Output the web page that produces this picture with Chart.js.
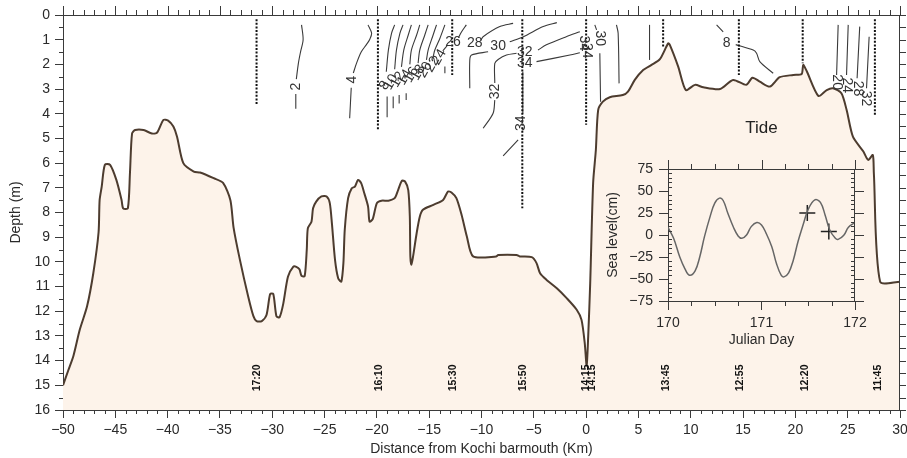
<!DOCTYPE html>
<html><head><meta charset="utf-8">
<script src="https://cdn.jsdelivr.net/npm/chart.js@4.4.1/dist/chart.umd.min.js"></script>
<style>
html,body{margin:0;padding:0;background:#fff;}
#wrap{position:relative;width:907px;height:458px;overflow:hidden;}
#main{position:absolute;left:0;top:0;width:907px;height:458px;}
#inset{position:absolute;left:590px;top:110px;width:280px;height:250px;}
</style></head><body>
<div id="wrap"><canvas id="main" width="907" height="458"></canvas><canvas id="inset" width="280" height="250"></canvas></div>
<script>
// ---------------- DATA ----------------
const xTickStep = 5, depthTickStep = 1;
const profileX = [-50,-49.5,-49,-48.4,-47.7,-47.1,-46.6,-46.5,-46.3,-46,-45.5,-44.9,-44.4,-44.25,-43.8,-43.6,-43.4,-43.1,-42.3,-41.5,-41.0,-40.4,-39.95,-39.45,-39.1,-38.5,-37.5,-36.9,-35.6,-34.7,-34.0,-33.7,-33.1,-32.3,-31.8,-31.5,-31.0,-30.55,-30.2,-29.9,-29.6,-29.3,-28.95,-28.5,-28.0,-27.7,-27.4,-27.2,-26.9,-26.7,-26.6,-26.25,-26.1,-25.8,-25.3,-24.8,-24.5,-24.3,-24.0,-23.7,-23.4,-23.2,-23.07,-22.75,-22.4,-22.1,-21.8,-21.5,-21.2,-20.84,-20.7,-20.4,-20.0,-19.56,-18.9,-18.3,-17.97,-17.6,-17.3,-17.0,-16.85,-16.8,-16.7,-16.54,-16.2,-15.9,-15.6,-14.6,-13.67,-13.2,-12.87,-12.4,-11.9,-11.4,-10.8,-8.6,-8.4,-6.65,-6.34,-5.2,-4.74,-4.4,-3.78,-2.8,-1.86,-0.9,-0.44,-0.13,0.05,0.2,0.39,0.67,0.93,1.15,1.6,2.26,3.5,4.0,4.65,5.45,6.25,7.05,7.84,8.0,8.8,9.53,10.4,11.2,12.8,14.05,15.3,15.9,16.6,17.56,18.5,19.8,20.6,20.75,21.1,22.2,23.0,23.6,24.4,24.9,25.5,26.5,26.96,27.4,27.5,28.1,30];
const profileDepth = [15.0,14.4,13.8,12.75,11.8,10.45,8.8,7.5,6.95,6.07,6.07,6.68,7.5,7.83,7.83,6.4,4.8,4.66,4.66,4.8,4.76,4.25,4.28,4.52,4.93,6.0,6.34,6.38,6.61,6.8,7.5,8.6,9.9,11.4,12.2,12.4,12.4,12.15,11.3,11.3,12.2,12.24,11.7,10.6,10.2,10.2,10.3,10.57,10.57,9.5,8.64,8.37,7.83,7.56,7.35,7.35,7.62,8.43,9.92,10.66,10.8,10.05,8.7,7.42,7.02,6.95,6.68,6.81,7.22,7.76,8.37,8.27,7.62,7.52,7.52,7.42,7.09,6.71,6.75,7.09,8.17,9.78,10.12,9.78,8.84,8.17,7.89,7.69,7.49,7.15,7.19,7.42,8.1,8.97,9.78,9.78,9.72,9.72,9.78,9.81,10.05,10.46,10.73,11.07,11.47,11.94,12.35,13.3,14.2,13.0,10.86,6.8,5.47,3.85,3.51,3.33,3.24,3.1,2.63,2.23,2.02,1.79,1.15,1.21,2.09,3.04,2.83,2.93,3.0,2.63,2.83,2.54,2.7,2.9,2.52,2.43,2.39,2.02,2.29,3.28,3.04,2.97,3.17,3.85,4.93,5.53,5.87,5.67,6.4,10.8,10.8];

const stationX      = [-31.5,-19.9,-12.8,-6.1,0.0,7.36,14.6,20.7,27.6];
const stationTop    = [0.17,0.17,0.17,0.17,0.17,0.17,0.17,0.17,0.17];
const stationBottom = [3.65,4.63,2.43,7.83,4.45,1.3,2.43,1.95,4.05];

const timeLabels = ['17:20','16:10','15:30','15:50','14:15','14:15','13:45','12:55','12:20','11:45'];
const timeX      = [-31.4,-19.8,-12.7,-6.0,0.0,0.6,7.6,14.7,20.9,27.9];

// salinity contour polylines [distance km, depth m]
const contourLines = [
  [[-27.2,0.4],[-27.05,1.0],[-27.3,1.5],[-27.5,1.95],[-27.7,2.6]],
  [[-27.75,3.2],[-27.75,3.8]],
  [[-20.85,0.4],[-20.5,0.74],[-20.7,1.0],[-21.0,1.2],[-21.5,1.5],[-21.95,1.96],[-22.25,2.35]],
  [[-22.45,2.95],[-22.6,4.18]],
  [[-18.3,0.4],[-18.6,0.74],[-18.9,1.42],[-19.1,2.3]],
  [[-19.02,3.3],[-19.02,4.14]],
  [[-17.5,0.4],[-17.8,0.74],[-18.13,1.42],[-18.3,2.2]],
  [[-18.44,3.3],[-18.44,3.78]],
  [[-16.7,0.4],[-17.0,0.81],[-17.43,1.42],[-17.65,2.1]],
  [[-17.87,3.24],[-17.87,3.58]],
  [[-15.9,0.4],[-16.2,0.81],[-16.7,1.42],[-16.85,2.0]],
  [[-17.2,3.17],[-17.2,3.44]],
  [[-15.1,0.4],[-15.42,0.81],[-15.9,1.42],[-16.06,1.95]],
  [[-14.3,0.4],[-14.68,0.88],[-15.1,1.42],[-15.26,1.82]],
  [[-13.5,0.4],[-13.98,0.95],[-14.46,1.42],[-14.62,1.69]],
  [[-13.3,1.25],[-13.7,1.45]],
  [[-13.5,2.09],[-13.5,2.36]],
  [[-11.45,0.4],[-11.9,0.68],[-12.2,0.92]],
  [[-6.98,0.34],[-8.25,0.47],[-9.85,0.88],[-10.05,1.02]],
  [[-11.12,2.97],[-11.12,1.82],[-10.95,1.62],[-9.37,1.49]],
  [[-7.3,1.08],[-6.0,0.88],[-4.1,0.47],[-2.8,0.31]],
  [[-9.84,4.59],[-8.89,3.98],[-8.73,3.45]],
  [[-8.73,2.75],[-8.73,1.96],[-8.41,1.8],[-7.61,1.62],[-6.65,1.55]],
  [[-4.6,1.42],[-3.8,1.21],[-1.9,0.88],[-0.6,0.68]],
  [[-4.74,1.89],[-1.55,1.62],[-0.6,1.53]],
  [[-6.05,2.3],[-6.05,4.0]],
  [[-6.5,5.06],[-7.93,5.71]],
  [[0.83,0.4],[1.0,0.6]],
  [[1.31,1.55],[1.38,3.51]],
  [[2.9,0.4],[3.06,0.74],[3.15,2.77]],
  [[6.06,0.4],[6.06,1.82]],
  [[12.47,0.4],[13.1,0.68]],
  [[14.3,1.2],[15.97,1.42],[16.29,1.55],[16.6,1.89],[17.88,2.36]],
  [[24.09,0.4],[23.94,2.43]],
  [[25.05,0.4],[24.89,2.43]],
  [[26.15,0.47],[25.9,2.56]],
  [[27.05,0.88],[26.8,2.97]]
];
const contourLabelText  = ['2','4','8','10','12','14','16','18','20','22','24','26','28','30','32','32','34','34','34','34','30','8','20','24','28','32'];
const contourLabelX     = [-27.7,-22.33,-19.25,-18.65,-18.0,-17.35,-16.7,-16.05,-15.4,-14.7,-14.05,-12.72,-10.64,-8.41,-8.73,-5.86,-5.86,-6.18,-0.25,0.1,1.31,13.42,23.94,24.89,26.0,26.74];
const contourLabelDepth = [2.9,2.62,2.85,2.72,2.62,2.52,2.42,2.33,2.22,2.0,1.7,1.08,1.15,1.28,3.1,1.49,1.96,4.38,1.15,1.45,0.94,1.15,2.72,2.85,2.98,3.38];
const contourLabelAngle = [-90,-90,-60,-60,-60,-60,-60,-60,-60,-60,-60,0,0,0,-90,0,0,-90,90,90,90,0,90,90,90,90];

// tide inset
const tideDay = [170.0,170.06,170.125,170.18,170.23,170.29,170.34,170.39,170.45,170.5,170.55,170.59,170.64,170.70,170.75,170.79,170.84,170.89,170.95,171.0,171.05,171.11,171.16,171.21,171.24,171.29,171.34,171.39,171.45,171.5,171.57,171.63,171.68,171.73,171.79,171.82,171.88,171.93,172.0];
const tideCm  = [8.8,-3.8,-24.7,-38.1,-45.7,-40.7,-24.7,-1.9,20.9,36.2,41.9,39.2,24.7,8.8,-1.1,-3.8,0,9.5,14.1,11.4,1.9,-13.3,-32.4,-45.7,-47.6,-43,-28.6,-7.6,13.3,29.3,40,37,22.8,5.7,-3.8,-5,-0.4,8.8,14.1];
const markerDay = [171.49, 171.72];
const markerCm  = [25, 4];

// ---------------- STYLE / DRAW ----------------
const FONT = "'Liberation Sans', Arial, sans-serif";
const TXT = '#2a2a2a';
const AX = '#3a3a3a';
const minus = v => String(v).replace('-', '\u2212');

const datasets = [];
datasets.push({
  data: profileX.map((x, i) => ({x, y: profileDepth[i]})),
  fill: {value: 16}, backgroundColor: '#fdf3ea', borderColor: '#4d3c2f',
  borderWidth: 2, tension: 0.25, pointRadius: 0, order: 2
});
stationX.forEach((x, i) => datasets.push({
  data: [{x, y: stationTop[i]}, {x, y: stationBottom[i]}],
  borderColor: '#111', borderWidth: 2, borderDash: [2, 1.6], pointRadius: 0, fill: false, order: 0
}));
contourLines.forEach(line => datasets.push({
  data: line.map(p => ({x: p[0], y: p[1]})),
  borderColor: '#3a3a3a', borderWidth: 1.1, pointRadius: 0, fill: false, tension: 0.3, order: 1
}));

function txt(ctx, t, px, py, rot, font, color) {
  ctx.save(); ctx.translate(px, py); ctx.rotate(rot * Math.PI / 180);
  ctx.font = font; ctx.fillStyle = color; ctx.textAlign = 'center'; ctx.textBaseline = 'middle';
  ctx.fillText(t, 0, 0); ctx.restore();
}

const mainPlugin = {
  id: 'mainDeco',
  afterDatasetsDraw(chart) {
    const {ctx, scales: {x, y}} = chart;
    contourLabelText.forEach((t, i) => {
      txt(ctx, t, x.getPixelForValue(contourLabelX[i]), y.getPixelForValue(contourLabelDepth[i]),
          contourLabelAngle[i], '14px ' + FONT, '#333');
    });
    timeLabels.forEach((t, i) => {
      txt(ctx, t, x.getPixelForValue(timeX[i]), y.getPixelForValue(14.7), -90, 'bold 10.5px ' + FONT, '#111');
    });
  },
  afterDraw(chart) {
    const {ctx, chartArea: a, scales: {x, y}} = chart;
    ctx.save();
    ctx.strokeStyle = AX; ctx.lineWidth = 1;
    ctx.beginPath();
    ctx.moveTo(a.left, a.top + 0.5); ctx.lineTo(a.right, a.top + 0.5);
    ctx.moveTo(a.right - 0.5, a.top); ctx.lineTo(a.right - 0.5, a.bottom);
    for (let v = x.min; v <= x.max; v += 1) {
      const px = Math.round(x.getPixelForValue(v)) + 0.5;
      const major = v % xTickStep === 0;
      if (!major) { ctx.moveTo(px, a.bottom); ctx.lineTo(px, a.bottom + 4); }
      ctx.moveTo(px, a.top); ctx.lineTo(px, a.top - (major ? 9 : 5));
    }
    for (let v = y.min; v <= y.max; v += depthTickStep / 2) {
      const py = Math.round(y.getPixelForValue(v)) + 0.5;
      const major = v % depthTickStep === 0;
      if (!major) { ctx.moveTo(a.left, py); ctx.lineTo(a.left - 4, py); }
      ctx.moveTo(a.right, py); ctx.lineTo(a.right + 6, py);
    }
    ctx.stroke();
    ctx.restore();
  }
};

new Chart(document.getElementById('main'), {
  type: 'line',
  data: {datasets},
  options: {
    responsive: false, animation: false, devicePixelRatio: 1,
    layout: {padding: {top: 15, right: 7, left: 0, bottom: 0}},
    plugins: {legend: {display: false}, tooltip: {enabled: false}},
    scales: {
      x: {
        type: 'linear', min: -50, max: 30, position: 'bottom',
        ticks: {stepSize: xTickStep, autoSkip: false, maxRotation: 0, color: TXT, font: {family: FONT, size: 14}, padding: 4, callback: v => minus(v)},
        grid: {drawOnChartArea: false, drawTicks: true, tickLength: 8, color: AX},
        border: {color: AX, width: 1},
        title: {display: true, text: 'Distance from Kochi barmouth (Km)', color: TXT, font: {family: FONT, size: 14}, padding: {top: 0, bottom: 0}},
        afterFit: s => { s.height = 48; s.paddingLeft = 0; s.paddingRight = 0; }
      },
      y: {
        type: 'linear', min: 0, max: 16, reverse: true,
        ticks: {stepSize: depthTickStep, autoSkip: false, color: TXT, font: {family: FONT, size: 14}, padding: 5},
        grid: {drawOnChartArea: false, drawTicks: true, tickLength: 8, color: AX},
        border: {color: AX, width: 1},
        title: {display: true, text: 'Depth (m)', color: TXT, font: {family: FONT, size: 14}, padding: {top: 8, bottom: 0}},
        afterFit: s => { s.width = 63; s.paddingTop = 0; s.paddingBottom = 0; }
      }
    }
  },
  plugins: [mainPlugin]
});

const insetPlugin = {
  id: 'insetDeco',
  afterDraw(chart) {
    const {ctx, chartArea: a, scales: {x, y}} = chart;
    ctx.save();
    txt(ctx, 'Tide', (a.left + a.right) / 2, a.top - 41, 0, '17px ' + FONT, '#222');
    ctx.strokeStyle = AX; ctx.lineWidth = 1;
    ctx.beginPath();
    ctx.moveTo(a.left, a.top + 0.5); ctx.lineTo(a.right, a.top + 0.5);
    ctx.moveTo(a.right - 0.5, a.top); ctx.lineTo(a.right - 0.5, a.bottom);
    for (let v = 0; v <= 8; v++) {
      const px = Math.round(x.getPixelForValue(x.min + v * 0.25)) + 0.5;
      const major = v % 4 === 0;
      if (!major) { ctx.moveTo(px, a.bottom); ctx.lineTo(px, a.bottom + 5); }
      ctx.moveTo(px, a.top); ctx.lineTo(px, a.top - (major ? 9 : 5));
    }
    for (let v = y.min; v <= y.max; v += 5) {
      const py = Math.round(y.getPixelForValue(v)) + 0.5;
      const major = v % 25 === 0;
      if (major) { ctx.moveTo(a.right, py); ctx.lineTo(a.right + 9, py); }
      else {
        ctx.moveTo(a.left, py); ctx.lineTo(a.left + 4, py);
        ctx.moveTo(a.right, py); ctx.lineTo(a.right - 4, py);
      }
    }
    ctx.stroke();
    ctx.restore();
  }
};

new Chart(document.getElementById('inset'), {
  type: 'line',
  data: {datasets: [
    {data: tideDay.map((d, i) => ({x: d, y: tideCm[i]})), borderColor: '#666', borderWidth: 1.5, tension: 0.4, pointRadius: 0, fill: false},
    {data: markerDay.map((d, i) => ({x: d, y: markerCm[i]})), showLine: false, pointStyle: 'cross', pointRadius: 8, borderColor: '#222', borderWidth: 1.5}
  ]},
  options: {
    responsive: false, animation: false, devicePixelRatio: 1,
    layout: {padding: {top: 59, right: 15, left: 0, bottom: 0}},
    plugins: {legend: {display: false}, tooltip: {enabled: false}},
    scales: {
      x: {
        type: 'linear', min: 170, max: 172,
        ticks: {stepSize: 1, autoSkip: false, maxRotation: 0, color: TXT, font: {family: FONT, size: 14}, padding: 5},
        grid: {drawOnChartArea: false, drawTicks: true, tickLength: 9, color: AX},
        border: {color: AX, width: 1},
        title: {display: true, text: 'Julian Day', color: TXT, font: {family: FONT, size: 14}, padding: {top: 0, bottom: 11}},
        afterFit: s => { s.height = 59; s.paddingLeft = 0; s.paddingRight = 0; }
      },
      y: {
        type: 'linear', min: -75, max: 75,
        ticks: {stepSize: 25, autoSkip: false, color: TXT, font: {family: FONT, size: 14}, padding: 6, callback: v => minus(v)},
        grid: {drawOnChartArea: false, drawTicks: true, tickLength: 9, color: AX},
        border: {color: AX, width: 1},
        title: {display: true, text: 'Sea level(cm)', color: TXT, font: {family: FONT, size: 14}, padding: {top: 15, bottom: 0}},
        afterFit: s => { s.width = 78; s.paddingTop = 0; s.paddingBottom = 0; }
      }
    }
  },
  plugins: [insetPlugin]
});
</script>
</body></html>
